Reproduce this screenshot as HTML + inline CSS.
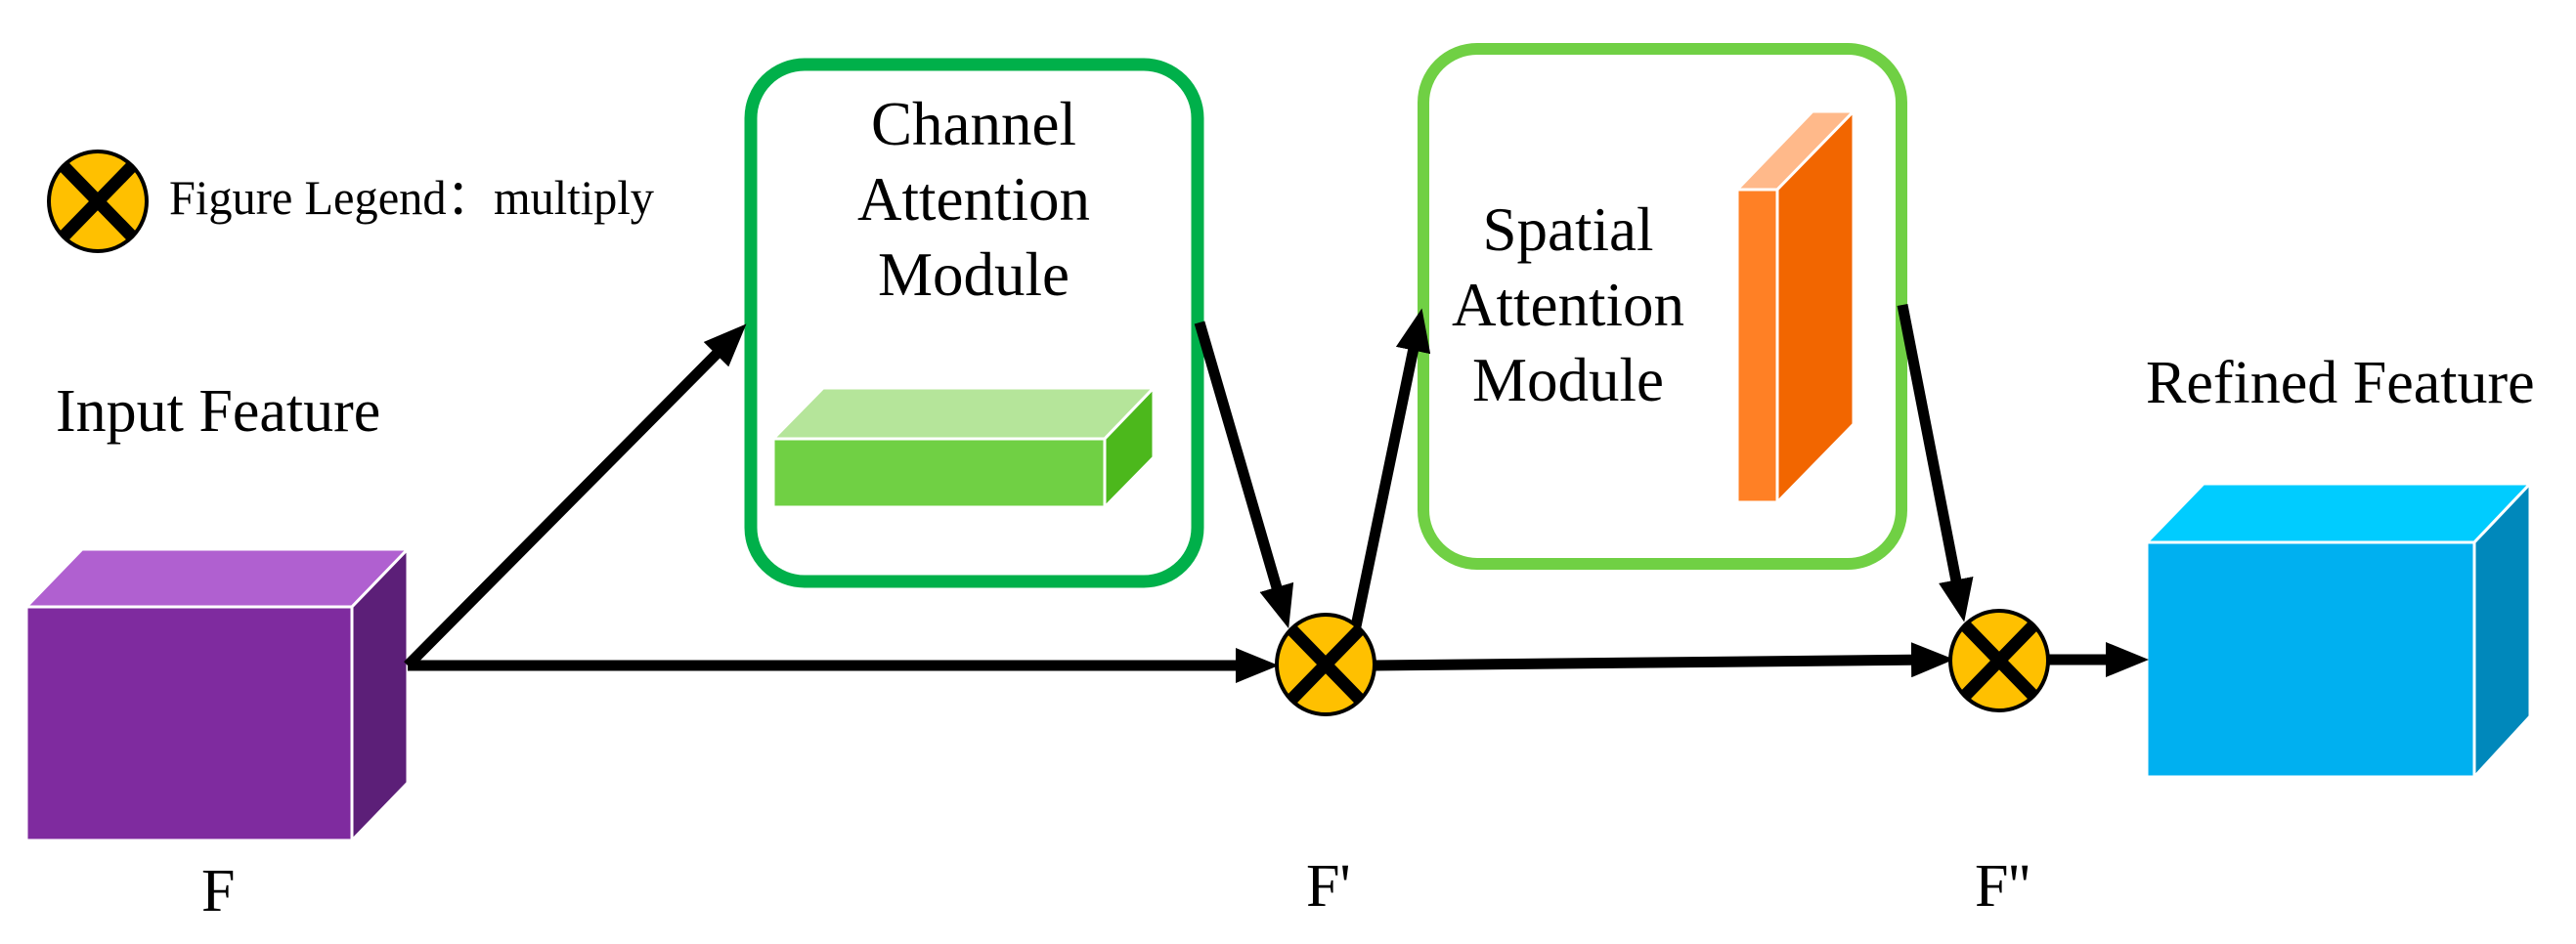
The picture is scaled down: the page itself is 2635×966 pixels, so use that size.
<!DOCTYPE html>
<html><head><meta charset="utf-8"><style>
html,body{margin:0;padding:0;background:#fff;}
svg{display:block;}
text{font-family:"Liberation Serif",serif;fill:#000;}
</style></head><body>
<svg width="2635" height="966" viewBox="0 0 2635 966" xmlns="http://www.w3.org/2000/svg">
<defs>
<marker id="ah" markerUnits="userSpaceOnUse" markerWidth="44" markerHeight="36" refX="22" refY="18" orient="auto">
<path d="M0,0 L44,18 L0,36 Z" fill="#000"/>
</marker>
<g id="mul">
<ellipse cx="0" cy="0" rx="50" ry="51" fill="#ffc000" stroke="#000" stroke-width="4"/>
<line x1="-36" y1="-37" x2="36" y2="37" stroke="#000" stroke-width="13"/>
<line x1="36" y1="-37" x2="-36" y2="37" stroke="#000" stroke-width="13"/>
</g>
</defs>

<!-- legend -->
<use href="#mul" x="100" y="206"/>
<text x="173" y="219" font-size="50" textLength="496" lengthAdjust="spacingAndGlyphs">Figure Legend：multiply</text>

<!-- purple cube -->
<polygon points="27,621 84,562 417,562 360,621" fill="#b060d0" stroke="#fff" stroke-width="3"/>
<polygon points="360,621 417,562 417,801 360,860" fill="#5c1f78" stroke="#fff" stroke-width="3"/>
<rect x="27" y="621" width="333" height="239" fill="#7f2b9f" stroke="#fff" stroke-width="3"/>
<text x="57" y="441" font-size="62">Input Feature</text>
<text x="206" y="932" font-size="62">F</text>

<!-- channel attention box -->
<rect x="768" y="66" width="457" height="529" rx="55" ry="55" fill="none" stroke="#00b04a" stroke-width="13"/>
<text x="996" y="148" font-size="63" text-anchor="middle">Channel</text>
<text x="996" y="225" font-size="63" text-anchor="middle">Attention</text>
<text x="996" y="302" font-size="63" text-anchor="middle">Module</text>
<polygon points="791,449 842,397 1180,397 1130,449" fill="#b5e59a" stroke="#fff" stroke-width="3"/>
<polygon points="1130,449 1180,397 1180,468 1130,519" fill="#4cb81c" stroke="#fff" stroke-width="3"/>
<rect x="791" y="449" width="339" height="70" fill="#70d044" stroke="#fff" stroke-width="3"/>

<!-- spatial attention box -->
<rect x="1456" y="50" width="489" height="527" rx="55" ry="55" fill="none" stroke="#70d044" stroke-width="12"/>
<text x="1604" y="256" font-size="63" text-anchor="middle">Spatial</text>
<text x="1604" y="333" font-size="63" text-anchor="middle">Attention</text>
<text x="1604" y="410" font-size="63" text-anchor="middle">Module</text>
<polygon points="1777,194 1854,114 1896,114 1818,194" fill="#ffb98a" stroke="#fff" stroke-width="3"/>
<polygon points="1818,194 1896,114 1896,434 1818,514" fill="#f26600" stroke="#fff" stroke-width="3"/>
<rect x="1777" y="194" width="41" height="320" fill="#ff8025" stroke="#fff" stroke-width="3"/>

<!-- blue cube -->
<polygon points="2196,555 2254,495 2588,495 2531,555" fill="#00ccff" stroke="#fff" stroke-width="3"/>
<polygon points="2531,555 2588,495 2588,733 2531,795" fill="#0088bb" stroke="#fff" stroke-width="3"/>
<rect x="2196" y="555" width="335" height="240" fill="#00b0f0" stroke="#fff" stroke-width="3"/>
<text x="2195" y="412" font-size="62">Refined Feature</text>

<!-- arrows -->
<g stroke="#000" stroke-width="11" fill="none" stroke-linecap="butt">
<line x1="417" y1="681" x2="748" y2="347" marker-end="url(#ah)"/>
<line x1="417" y1="681" x2="1286" y2="681" marker-end="url(#ah)"/>
<line x1="1227" y1="330" x2="1312" y2="622" marker-end="url(#ah)"/>
<line x1="1387" y1="641" x2="1450" y2="337" marker-end="url(#ah)"/>
<line x1="1946" y1="312" x2="2005" y2="615" marker-end="url(#ah)"/>
<line x1="1405" y1="681" x2="1977" y2="675" marker-end="url(#ah)"/>
<line x1="2094" y1="675" x2="2176" y2="675" marker-end="url(#ah)"/>
</g>

<use href="#mul" x="1356" y="680"/>
<use href="#mul" x="2045" y="676"/>

<text x="1336" y="927" font-size="62">F'</text>
<text x="2020" y="927" font-size="62">F''</text>
</svg>
</body></html>
